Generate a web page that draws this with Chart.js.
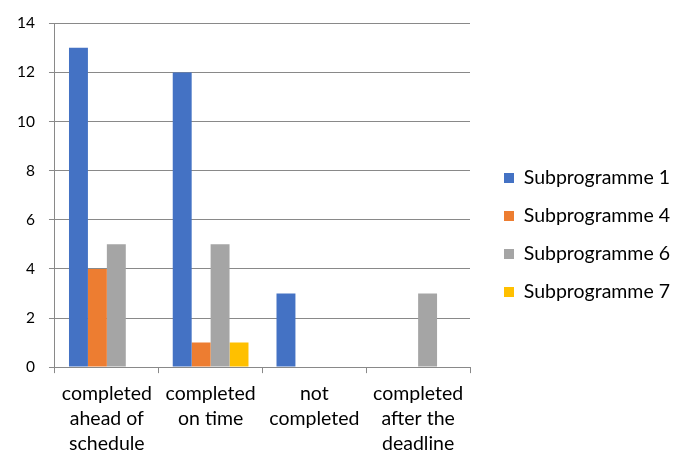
<!DOCTYPE html>
<html>
<head>
<meta charset="utf-8">
<script src="https://cdn.jsdelivr.net/npm/chart.js@4.4.0/dist/chart.umd.min.js"></script>
<style>
    html, body { margin: 0; padding: 0; background: #fff; }
    #wrap { width: 688px; height: 469px; }
</style>
</head>
<body>
<div id="wrap"><canvas id="chart"></canvas></div>
<script>
// categories and series
const categories = [
    ["completed", "ahead of", "schedule"],
    ["completed", "on time"],
    ["not", "completed"],
    ["completed", "after the", "deadline"]
];
const seriesNames = ["Subprogramme 1", "Subprogramme 4", "Subprogramme 6", "Subprogramme 7"];
const sub1 = [13, 12, 3, 0];
const sub4 = [4, 1, 0, 0];
const sub6 = [5, 5, 0, 3];
const sub7 = [0, 1, 0, 0];
const colors = ["#4472C4", "#ED7D31", "#A5A5A5", "#FFC000"];

const yMax = 14;
const yStep = 2;

Chart.defaults.font.family = "Lato, 'Open Sans', sans-serif";
Chart.defaults.color = "#000";

const series = [sub1, sub4, sub6, sub7];

// legend sits a little away from the plot, like the Excel original
const legendWidth = 218;
const legendShift = 15.5;
const legendLift = 4;
const legendPlacer = {
    id: "legendPlacer",
    beforeLayout(chart) {
        const lg = chart.legend;
        if (lg && !lg._patched) {
            const fit = lg.fit;
            lg.fit = function () {
                fit.call(this);
                this.width = legendWidth;
            };
            lg._patched = true;
        }
    },
    afterLayout(chart) {
        chart.legend.left += legendShift;
        chart.legend.top -= legendLift;
        chart.legend.bottom -= legendLift;
    }
};

new Chart(document.getElementById("chart"), {
    type: "bar",
    data: {
        labels: categories,
        datasets: series.map((vals, i) => ({
            label: seriesNames[i],
            data: vals,
            backgroundColor: colors[i],
            borderWidth: 0,
            categoryPercentage: 0.73,
            barPercentage: 1.0
        }))
    },
    plugins: [legendPlacer],
    options: {
        responsive: true,
        maintainAspectRatio: false,
        animation: false,
        layout: {
            padding: {top: 14, left: 3, right: 0, bottom: 5}
        },
        plugins: {
            tooltip: {enabled: false},
            legend: {
                position: "right",
                labels: {
                    boxWidth: 10,
                    boxHeight: 10,
                    padding: 18.5,
                    font: {size: 19.5}
                }
            }
        },
        scales: {
            x: {
                grid: {
                    offset: true,
                    drawOnChartArea: false,
                    color: "#898989",
                    tickLength: 6
                },
                border: {color: "#898989"},
                ticks: {
                    maxRotation: 0,
                    autoSkip: false,
                    padding: 8,
                    font: {size: 19.5, lineHeight: 1.28}
                }
            },
            y: {
                min: 0,
                max: yMax,
                ticks: {stepSize: yStep, padding: 14, font: {size: 15.5}},
                grid: {color: "#898989", tickLength: 6},
                border: {color: "#898989"}
            }
        }
    }
});
</script>
</body>
</html>
